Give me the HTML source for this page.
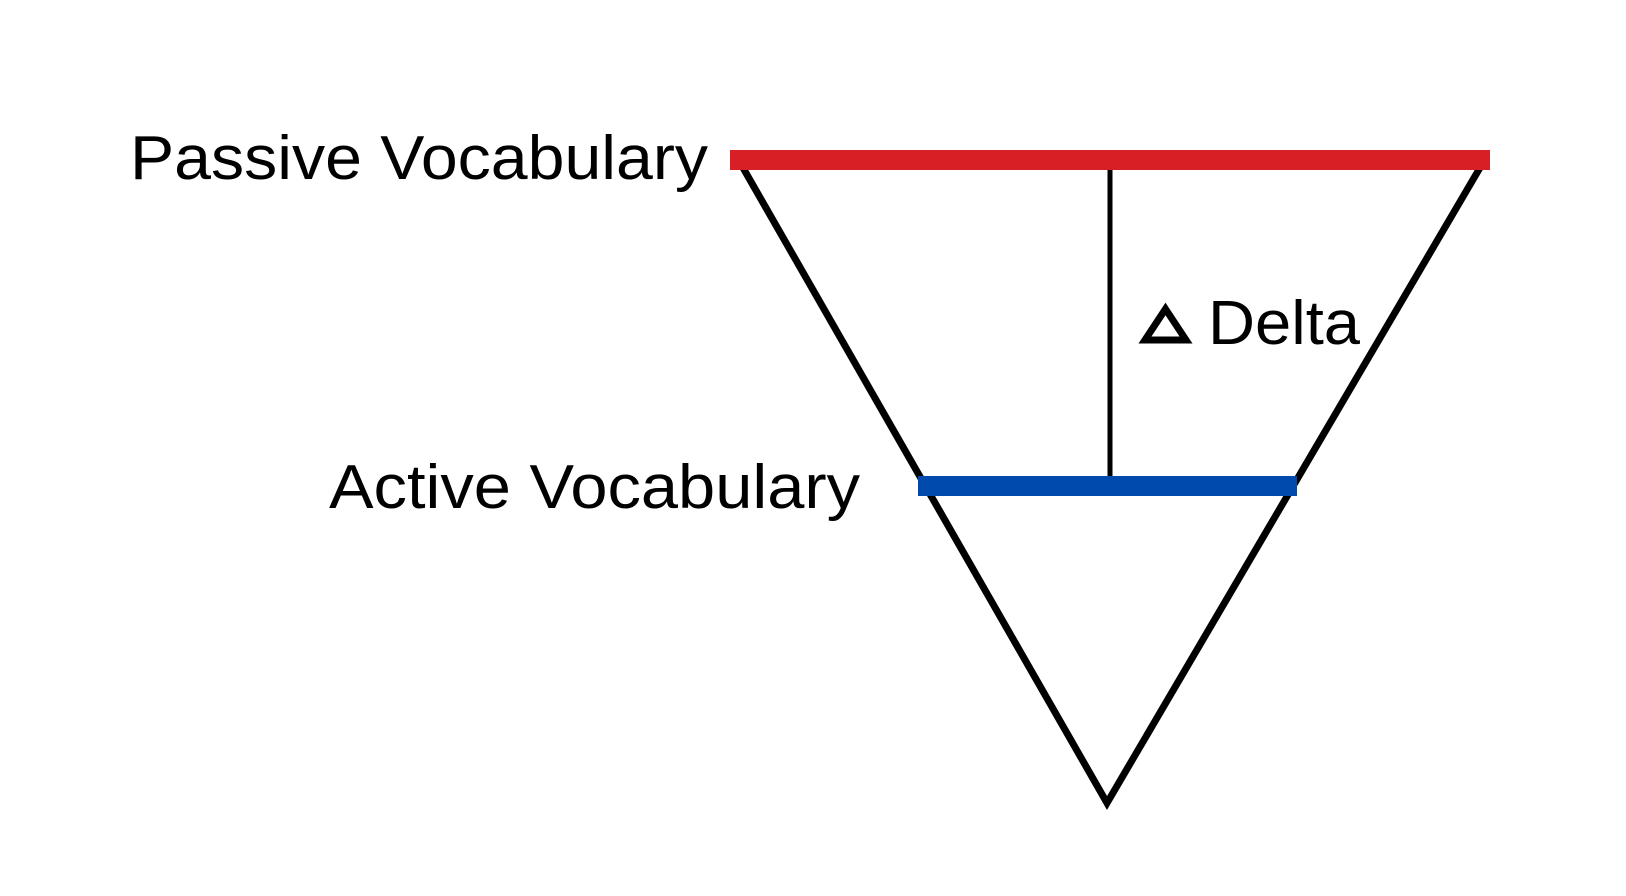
<!DOCTYPE html>
<html><head><meta charset="utf-8"><style>html,body{margin:0;padding:0;background:#fff}svg{display:block}</style></head>
<body>
<svg width="1626" height="896" viewBox="0 0 1626 896" xmlns="http://www.w3.org/2000/svg">
<rect width="1626" height="896" fill="#fff"/>
<polyline points="742,166 1107,803 1481,166" fill="none" stroke="#000" stroke-width="7" stroke-linejoin="miter"/>
<line x1="1110" y1="168" x2="1110" y2="478" stroke="#000" stroke-width="5"/>
<rect x="730" y="150" width="760" height="20" fill="#d71f25"/>
<rect x="918" y="476" width="379" height="20" fill="#004aad"/>
<g font-family="Liberation Sans, sans-serif" font-size="62" fill="#000">
<text x="130" y="179" textLength="578" lengthAdjust="spacingAndGlyphs">Passive Vocabulary</text>
<text x="329" y="508" textLength="531" lengthAdjust="spacingAndGlyphs">Active Vocabulary</text>
<text x="1208" y="344" textLength="152" lengthAdjust="spacingAndGlyphs">Delta</text>
</g>
<polygon points="1165.5,309 1186,340 1145,340" fill="none" stroke="#000" stroke-width="7" stroke-linejoin="miter"/>
</svg>
</body></html>
